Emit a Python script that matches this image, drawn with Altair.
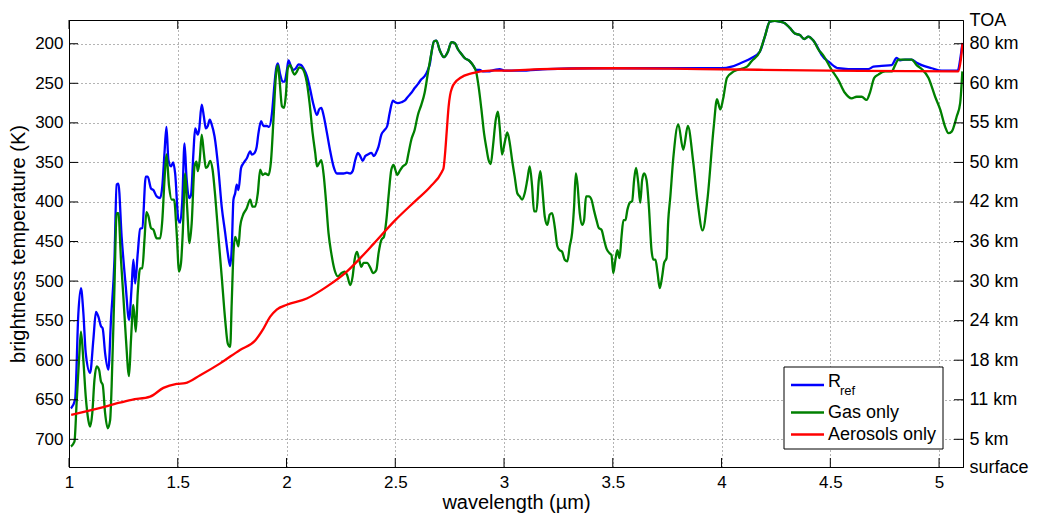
import altair as alt
import pandas as pd

FONT = "Liberation Sans"

# ---------------- data ----------------
series_names = ["R_ref", "Gas only", "Aerosols only"]
series_colors = ["#0000ff", "#008000", "#ff0000"]

blue_x = [1.009, 1.028, 1.043, 1.055, 1.066, 1.077, 1.097, 1.112, 1.124, 1.135, 1.147, 1.155, 1.166, 1.181,
          1.193, 1.209, 1.219, 1.227, 1.242, 1.261, 1.276, 1.288, 1.296, 1.304, 1.316, 1.327, 1.337, 1.353,
          1.362, 1.377, 1.388, 1.403, 1.419, 1.429, 1.439, 1.448, 1.457, 1.469, 1.479, 1.488, 1.503, 1.511,
          1.521, 1.531, 1.540, 1.552, 1.561, 1.572, 1.580, 1.592, 1.598, 1.610, 1.620, 1.629, 1.638, 1.647,
          1.656, 1.669, 1.687, 1.702, 1.718, 1.730, 1.741, 1.748, 1.756, 1.764, 1.771, 1.779, 1.791, 1.802,
          1.817, 1.833, 1.840, 1.853, 1.863, 1.871, 1.883, 1.894, 1.910, 1.920, 1.933, 1.945, 1.952, 1.960,
          1.971, 1.982, 1.991, 2.002, 2.009, 2.021, 2.032, 2.043, 2.055, 2.067, 2.078, 2.094, 2.109, 2.124,
          2.140, 2.150, 2.160, 2.170, 2.186, 2.201, 2.216, 2.232, 2.247, 2.262, 2.278, 2.293, 2.304, 2.316,
          2.328, 2.339, 2.350, 2.362, 2.374, 2.390, 2.402, 2.413, 2.423, 2.436, 2.451, 2.463, 2.474, 2.489,
          2.500, 2.512, 2.528, 2.543, 2.558, 2.574, 2.589, 2.604, 2.620, 2.635, 2.650, 2.660, 2.666, 2.678,
          2.689, 2.704, 2.724, 2.742, 2.758, 2.773, 2.788, 2.804, 2.819, 2.842, 2.857, 2.873, 2.888, 2.903,
          2.926, 2.957, 2.980, 3.003, 3.072, 3.200, 3.400, 3.600, 3.800, 4.000, 4.046, 4.092, 4.138, 4.176,
          4.199, 4.222, 4.245, 4.268, 4.291, 4.314, 4.337, 4.360, 4.380, 4.399, 4.422, 4.452, 4.460, 4.498,
          4.537, 4.583, 4.675, 4.698, 4.736, 4.782, 4.805, 4.821, 4.844, 4.874, 4.897, 4.920, 4.966, 5.012,
          5.086, 5.097, 5.107]
blue_y = [661, 650, 541, 509, 540, 591, 616, 574, 539, 545, 557, 560, 591, 612,
          549, 473, 378, 377, 444, 507, 549, 507, 473, 503, 465, 434, 433, 368,
          368, 383, 385, 393, 395, 380, 338, 305, 347, 355, 350, 364, 423, 426,
          397, 326, 368, 395, 391, 338, 307, 315, 309, 277, 292, 307, 304, 296,
          302, 317, 359, 406, 439, 465, 481, 460, 397, 389, 378, 385, 357, 351,
          345, 336, 340, 338, 330, 313, 298, 304, 304, 305, 288, 250, 232, 225,
          239, 248, 248, 233, 221, 229, 233, 231, 226, 227, 231, 241, 258, 277,
          290, 283, 281, 290, 313, 336, 355, 364, 364, 364, 363, 364, 361, 347,
          338, 342, 348, 342, 340, 338, 342, 337, 330, 315, 309, 304, 288, 272,
          274, 275, 274, 272, 267, 262, 256, 251, 245, 241, 233, 224, 212, 197,
          196, 208, 217, 210, 198, 199, 207, 213, 218, 222, 227, 233, 233, 235,
          235, 233, 232, 234, 234, 232, 231, 231, 231, 231, 229, 224, 218, 210,
          191, 172, 171, 172, 174, 180, 187, 189, 194, 191, 196, 210, 214, 224,
          231, 232, 232, 229, 228, 227, 218, 221, 220, 220, 224, 227, 231, 234,
          234, 220, 200]

green_x = [1.009, 1.025, 1.035, 1.046, 1.055, 1.066, 1.077, 1.089, 1.097, 1.107, 1.117, 1.127, 1.138, 1.147,
           1.155, 1.166, 1.178, 1.189, 1.196, 1.209, 1.219, 1.227, 1.239, 1.250, 1.262, 1.276, 1.285, 1.296,
           1.307, 1.316, 1.327, 1.337, 1.347, 1.356, 1.365, 1.377, 1.388, 1.403, 1.419, 1.429, 1.439, 1.448,
           1.460, 1.472, 1.483, 1.495, 1.506, 1.515, 1.523, 1.534, 1.543, 1.554, 1.564, 1.577, 1.586, 1.592,
           1.601, 1.610, 1.620, 1.629, 1.638, 1.649, 1.660, 1.672, 1.687, 1.702, 1.718, 1.730, 1.741, 1.748,
           1.756, 1.764, 1.771, 1.779, 1.787, 1.798, 1.817, 1.833, 1.844, 1.856, 1.868, 1.879, 1.890, 1.902,
           1.917, 1.929, 1.940, 1.951, 1.960, 1.968, 1.979, 1.989, 1.997, 2.006, 2.017, 2.028, 2.037, 2.048,
           2.058, 2.071, 2.083, 2.094, 2.106, 2.120, 2.132, 2.140, 2.150, 2.160, 2.170, 2.181, 2.193, 2.206,
           2.221, 2.236, 2.252, 2.267, 2.278, 2.293, 2.304, 2.313, 2.324, 2.334, 2.344, 2.354, 2.370, 2.387,
           2.397, 2.413, 2.423, 2.436, 2.448, 2.459, 2.469, 2.482, 2.492, 2.500, 2.509, 2.520, 2.535, 2.551,
           2.561, 2.574, 2.589, 2.604, 2.620, 2.635, 2.650, 2.666, 2.678, 2.689, 2.704, 2.724, 2.742, 2.758,
           2.773, 2.788, 2.804, 2.819, 2.842, 2.857, 2.873, 2.883, 2.896, 2.908, 2.919, 2.929, 2.939, 2.949,
           2.962, 2.972, 2.980, 2.991, 3.003, 3.015, 3.026, 3.037, 3.049, 3.061, 3.072, 3.083, 3.095, 3.107,
           3.118, 3.129, 3.138, 3.149, 3.160, 3.167, 3.175, 3.187, 3.199, 3.210, 3.221, 3.233, 3.245, 3.256,
           3.267, 3.279, 3.291, 3.302, 3.313, 3.322, 3.330, 3.337, 3.348, 3.359, 3.368, 3.377, 3.390, 3.402,
           3.413, 3.425, 3.436, 3.448, 3.460, 3.471, 3.486, 3.494, 3.502, 3.512, 3.521, 3.531, 3.540, 3.549,
           3.558, 3.567, 3.578, 3.589, 3.598, 3.607, 3.617, 3.626, 3.635, 3.644, 3.655, 3.666, 3.678, 3.687,
           3.696, 3.706, 3.716, 3.727, 3.736, 3.747, 3.755, 3.764, 3.778, 3.801, 3.824, 3.845, 3.870, 3.890,
           3.913, 3.935, 3.964, 3.979, 3.994, 4.007, 4.025, 4.056, 4.117, 4.138, 4.176, 4.199, 4.222, 4.245,
           4.268, 4.291, 4.314, 4.337, 4.360, 4.380, 4.399, 4.422, 4.452, 4.460, 4.506, 4.537, 4.567, 4.598,
           4.621, 4.644, 4.667, 4.682, 4.702, 4.721, 4.752, 4.782, 4.798, 4.813, 4.844, 4.874, 4.897, 4.920,
           4.951, 4.982, 5.005, 5.028, 5.043, 5.058, 5.081, 5.097, 5.107]
green_y = [709, 703, 654, 600, 564, 600, 646, 676, 684, 667, 625, 608, 612, 627,
           631, 667, 686, 676, 633, 507, 414, 414, 473, 520, 574, 620, 574, 530,
           564, 515, 484, 484, 448, 413, 418, 433, 435, 446, 446, 423, 372, 340,
           380, 397, 397, 439, 488, 477, 439, 364, 406, 452, 427, 355, 349, 361,
           347, 315, 338, 357, 355, 348, 359, 392, 444, 494, 549, 579, 583, 528,
           465, 444, 449, 456, 431, 418, 408, 397, 406, 406, 389, 359, 366, 364,
           366, 347, 296, 241, 227, 246, 279, 281, 265, 231, 227, 235, 239, 235,
           230, 231, 237, 250, 275, 313, 338, 355, 351, 347, 364, 397, 439, 465,
           486, 494, 490, 488, 492, 505, 494, 473, 463, 473, 482, 477, 477, 484,
           490, 486, 465, 448, 444, 423, 393, 359, 353, 359, 366, 361, 355, 351,
           338, 321, 309, 290, 277, 262, 237, 212, 197, 196, 208, 217, 210, 198,
           199, 207, 213, 218, 222, 227, 237, 254, 283, 313, 332, 347, 352, 330,
           296, 286, 305, 340, 325, 312, 325, 347, 368, 389, 393, 397, 389, 372,
           355, 380, 412, 412, 372, 361, 380, 418, 429, 416, 414, 431, 456, 461,
           463, 473, 475, 456, 439, 406, 364, 376, 414, 429, 423, 393, 393, 397,
           410, 423, 433, 435, 448, 459, 465, 467, 490, 473, 461, 471, 444, 423,
           423, 410, 401, 399, 372, 357, 376, 401, 372, 364, 372, 406, 461, 473,
           473, 490, 509, 494, 477, 471, 423, 395, 345, 302, 334, 304, 350, 400,
           436, 397, 305, 270, 283, 270, 243, 235, 229, 222, 210, 191, 172, 171,
           172, 174, 180, 187, 189, 194, 191, 196, 210, 212, 233, 246, 262, 269,
           267, 267, 271, 262, 243, 239, 235, 235, 227, 220, 220, 220, 227, 232,
           243, 267, 283, 305, 313, 311, 292, 275, 235]

red_x = [1.010, 1.135, 1.227, 1.288, 1.373, 1.434, 1.495, 1.534, 1.603, 1.695, 1.786, 1.856, 1.894,
         1.925, 1.955, 2.001, 2.093, 2.185, 2.277, 2.339, 2.400, 2.500, 2.599, 2.660, 2.714, 2.722,
         2.730, 2.738, 2.745, 2.752, 2.762, 2.775, 2.800, 2.850, 2.936, 3.013, 3.166, 3.500, 3.902,
         4.500, 5.088, 5.100, 5.108]
red_y = [669, 661, 654, 650, 646, 635, 630, 629, 619, 604, 587, 575, 560,
         545, 536, 530, 522, 507, 488, 471, 453, 423, 397, 381, 362, 357,
         335, 305, 280, 265, 255, 249, 243, 237.5, 234, 234, 232, 231, 232,
         234, 235, 220, 199]

x_ticks = [1, 1.5, 2, 2.5, 3, 3.5, 4, 4.5, 5]
y_ticks = [200, 250, 300, 350, 400, 450, 500, 550, 600, 650, 700]
right_values = [170, 200, 250, 300, 350, 400, 450, 500, 550, 600, 650, 700, 735]
right_labels = ["TOA", "80 km", "60 km", "55 km", "50 km", "42 km", "36 km", "30 km",
                "24 km", "18 km", "11 km", "\u20075 km", "surface"]

# ---------------- chart ----------------
W, H = 894, 447

x_scale = alt.Scale(domain=[1, 5.11], nice=False, zero=False)
y_scale = alt.Scale(domain=[170, 735], reverse=True, nice=False, zero=False)
color_scale = alt.Scale(domain=series_names, range=series_colors)

x_axis = alt.Axis(values=x_ticks, format="~g", title="wavelength (\u00b5m)", grid=True,
                  labelFlush=False, labelPadding=7, titlePadding=2, ticks=False)
y_axis = alt.Axis(values=y_ticks, title="brightness temperature (K)", grid=True,
                  labelFlush=False, labelPadding=6, titlePadding=6, ticks=False)

vals_js = "[" + ",".join(str(v) for v in right_values) + "]"
labs_js = "[" + ",".join("'" + s + "'" for s in right_labels) + "]"
right_axis = alt.Axis(orient="right", values=right_values, title=None, grid=False,
                      labelFlush=False, labelPadding=6, ticks=False, labelAlign="left",
                      labelFontSize=18,
                      labelExpr=labs_js + "[indexof(" + vals_js + ", datum.value)]")

def series_df(name, xs, ys):
    return pd.DataFrame({"series": name, "wl": xs, "bt": ys, "idx": list(range(len(xs)))})

frames = [series_df(n, xs, ys) for n, xs, ys in
          zip(series_names, [blue_x, green_x, red_x], [blue_y, green_y, red_y])]

X = alt.X("wl:Q", scale=x_scale, axis=x_axis)

line_layers = []
for i, df in enumerate(frames):
    line_layers.append(
        alt.Chart(df).mark_line(strokeWidth=2.3, clip=True, interpolate="monotone",
                                strokeJoin="round").encode(
            x=X,
            y=alt.Y("bt:Q", scale=y_scale, axis=y_axis if i == 0 else None),
            color=alt.Color("series:N", scale=color_scale, legend=None),
            order="idx:Q",
        )
    )

ytick_df = pd.DataFrame({"bt": y_ticks})
xtick_df = pd.DataFrame({"wl": x_ticks})
TL = 9
left_ticks = alt.Chart(ytick_df).mark_rule(color="black", strokeWidth=1).encode(
    y=alt.Y("bt:Q", scale=y_scale, axis=None), x=alt.value(0), x2=alt.value(TL))
right_ticks = alt.Chart(ytick_df).mark_rule(color="black", strokeWidth=1).encode(
    y=alt.Y("bt:Q", scale=y_scale, axis=right_axis), x=alt.value(W - TL), x2=alt.value(W))
bottom_ticks = alt.Chart(xtick_df).mark_rule(color="black", strokeWidth=1).encode(
    x=X, y=alt.value(H - TL), y2=alt.value(H))
top_ticks = alt.Chart(xtick_df).mark_rule(color="black", strokeWidth=1).encode(
    x=X, y=alt.value(0), y2=alt.value(TL))

# ---------------- custom legend (for the subscript in R_ref) ----------------
one = alt.InlineData(values=[{"k": 1}])
legend_box = alt.Chart(one).mark_rect(fill="white", stroke="black", strokeWidth=1).encode(
    x=alt.value(715), x2=alt.value(874), y=alt.value(347), y2=alt.value(429))
legend_layers = [legend_box]
row_y = [365, 392.5, 414.5]
for name, col, ry in zip(series_names, series_colors, row_y):
    legend_layers.append(
        alt.Chart(one).mark_rule(strokeWidth=2.3, color=col).encode(
            x=alt.value(722), x2=alt.value(755), y=alt.value(ry)))
    if name == "R_ref":
        legend_layers.append(
            alt.Chart(alt.InlineData(values=[{"t": "R"}])).mark_text(
                align="left", baseline="middle", font=FONT, fontSize=18, color="black").encode(
                x=alt.value(759), y=alt.value(ry - 3), text="t:N"))
        legend_layers.append(
            alt.Chart(alt.InlineData(values=[{"t": "ref"}])).mark_text(
                align="left", baseline="middle", font=FONT, fontSize=13, color="black").encode(
                x=alt.value(771), y=alt.value(ry + 6), text="t:N"))
    else:
        legend_layers.append(
            alt.Chart(alt.InlineData(values=[{"t": name}])).mark_text(
                align="left", baseline="middle", font=FONT, fontSize=18, color="black").encode(
                x=alt.value(759), y=alt.value(ry), text="t:N"))

chart = alt.layer(
    *line_layers, left_ticks, right_ticks, bottom_ticks, top_ticks, *legend_layers
).resolve_axis(y="independent").properties(
    width=W, height=H,
    autosize=alt.AutoSizeParams(type="none"),
    padding={"left": 69, "top": 20, "right": 77, "bottom": 51},
    background="white",
).configure_axis(
    labelFont=FONT, titleFont=FONT, labelFontSize=17, titleFontSize=20,
    labelColor="black", titleColor="black", titleFontWeight="normal",
    domainColor="black", domainWidth=1,
    gridColor="#444", gridDash=[1, 3], gridWidth=1, gridOpacity=0.8,
).configure_view(stroke="black", strokeWidth=1)

chart.save("out.html", embed_options={"renderer": "svg", "actions": False})
